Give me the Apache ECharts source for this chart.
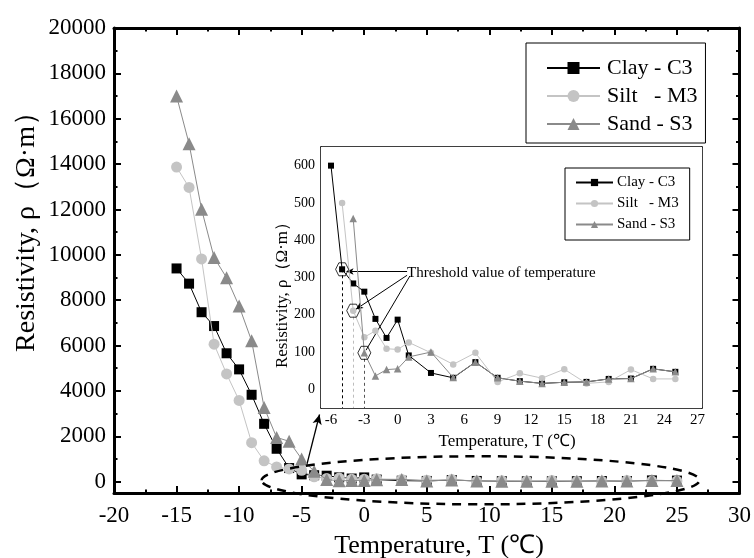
<!DOCTYPE html>
<html>
<head>
<meta charset="utf-8">
<script src="https://cdn.jsdelivr.net/npm/echarts@6/dist/echarts.min.js"></script>
<style>html,body{margin:0;padding:0;background:#fff}#c{width:754px;height:558px}</style>
</head>
<body>
<div id="c"></div>
<script>
// ---------------- data ----------------
const temps = [-15,-14,-13,-12,-11,-10,-9,-8,-7,-6,-5,-4,-3,-2,-1,0,1,3,5,7,9,11,13,15,17,19,21,23,25];
const clay  = [9400,8730,7470,6860,5660,4950,3830,2550,1450,600,322,284,262,189,138,187,91,44,31,73,31,22,16,19,20,28,29,55,47];
const silt  = [13870,12970,9820,6060,4750,3580,1720,920,650,560,500,211,140,157,109,107,126,98,67,98,20,43,30,54,16,20,53,28,28];
const sand  = [17000,14900,12010,9880,8990,7740,6210,3270,1950,1780,1000,458,98,36,53,55,87,100,32,73,31,22,16,19,20,28,29,55,47];
const seriesNames = ['Clay - C3', 'Silt   - M3', 'Sand - S3'];
// inset starts (first temperature shown in the enlarged view)
const insetStart = [-6, -5, -4];
// threshold temperatures
const thresholdTemps = [-5, -4, -3];
// tick labels
const mainYTicks = [0,2000,4000,6000,8000,10000,12000,14000,16000,18000,20000];
const mainYMinor = [1000,3000,5000,7000,9000,11000,13000,15000,17000,19000];
const insetXTicks = [-6,-3,0,3,6,9,12,15,18,21,24,27];
const insetXMinor = [-4.5,-1.5,1.5,4.5,7.5,10.5,13.5,16.5,19.5,22.5,25.5];
const insetYTicks = [0,100,200,300,400,500,600];
const insetYMinor = [50,150,250,350,450,550];
const thresholdLabel = 'Threshold value of temperature';
const labelAnchor = [0.85, 313];

// ---------------- helpers ----------------
const FONT = 'Liberation Serif';
const colors = ['#000000', '#c4c4c4', '#8a8a8a'];
const symbols = ['rect', 'circle', 'triangle'];
const allVals = [clay, silt, sand];
function pairs(vals, start) {
  return temps.map((t, i) => [t, vals[i]]).filter(p => p[0] >= start);
}
function valueAt(vals, t) { return vals[temps.indexOf(t)]; }
const plain = v => String(v);

function axisBase(extra) {
  const base = {
    type: 'value',
    splitLine: {show: false},
    minorSplitLine: {show: false},
    axisLabel: {show: false},
    axisTick: {show: true, inside: true, length: 7, lineStyle: {color: '#000', width: 2}}
  };
  const o = Object.assign(base, extra);
  o.axisLine = Object.assign({show: true, lineStyle: {color: '#000', width: 3}}, extra.axisLine || {}, {onZero: false});
  return o;
}
const thin = {show: true, lineStyle: {color: '#000', width: 1.5}};

const xAxes = [
  // main
  axisBase({gridIndex: 0, position: 'bottom', min: -20, max: 30, interval: 5,
    minorTick: {show: true, splitNumber: 2, length: 3.5, lineStyle: {color: '#000', width: 2}},
    axisLabel: {show: true, formatter: plain, fontFamily: FONT, fontSize: 23, color: '#000', margin: 11}}),
  axisBase({gridIndex: 0, position: 'top', min: -20, max: 30, interval: 5,
    minorTick: {show: true, splitNumber: 2, length: 3.5, lineStyle: {color: '#000', width: 2}}}),
  // inset
  axisBase({gridIndex: 1, position: 'bottom', min: -6.9, max: 27.4, axisLine: thin,
    axisTick: {show: true, inside: true, length: 4, customValues: insetXTicks, lineStyle: {color: '#000', width: 1.2}},
    axisLabel: {show: true, formatter: plain, customValues: insetXTicks, fontFamily: FONT, fontSize: 15, color: '#000', margin: 5}}),
  axisBase({gridIndex: 1, position: 'bottom', min: -6.9, max: 27.4, axisLine: {show: false},
    axisTick: {show: true, inside: true, length: 2.5, customValues: insetXMinor, lineStyle: {color: '#000', width: 1.2}}}),
  axisBase({gridIndex: 1, position: 'top', min: -6.9, max: 27.4, axisLine: thin,
    axisTick: {show: true, inside: true, length: 4, customValues: insetXTicks, lineStyle: {color: '#000', width: 1.2}}}),
  axisBase({gridIndex: 1, position: 'top', min: -6.9, max: 27.4, axisLine: {show: false},
    axisTick: {show: true, inside: true, length: 2.5, customValues: insetXMinor, lineStyle: {color: '#000', width: 1.2}}})
];

const yAxes = [
  // main
  axisBase({gridIndex: 0, position: 'left', min: -500, max: 20000,
    axisTick: {show: true, inside: true, length: 7, customValues: mainYTicks, lineStyle: {color: '#000', width: 2}},
    axisLabel: {show: true, formatter: plain, customValues: mainYTicks, fontFamily: FONT, fontSize: 23, color: '#000', margin: 8}}),
  axisBase({gridIndex: 0, position: 'left', min: -500, max: 20000, axisLine: {show: false},
    axisTick: {show: true, inside: true, length: 3.5, customValues: mainYMinor, lineStyle: {color: '#000', width: 2}}}),
  axisBase({gridIndex: 0, position: 'right', min: -500, max: 20000,
    axisTick: {show: true, inside: true, length: 7, customValues: mainYTicks, lineStyle: {color: '#000', width: 2}}}),
  axisBase({gridIndex: 0, position: 'right', min: -500, max: 20000, axisLine: {show: false},
    axisTick: {show: true, inside: true, length: 3.5, customValues: mainYMinor, lineStyle: {color: '#000', width: 2}}}),
  // inset
  axisBase({gridIndex: 1, position: 'left', min: -50, max: 650, axisLine: thin,
    axisTick: {show: true, inside: true, length: 4, customValues: insetYTicks, lineStyle: {color: '#000', width: 1.2}},
    axisLabel: {show: true, formatter: plain, customValues: insetYTicks, fontFamily: FONT, fontSize: 14, color: '#000', margin: 6}}),
  axisBase({gridIndex: 1, position: 'left', min: -50, max: 650, axisLine: {show: false},
    axisTick: {show: true, inside: true, length: 2.5, customValues: insetYMinor, lineStyle: {color: '#000', width: 1.2}}}),
  axisBase({gridIndex: 1, position: 'right', min: -50, max: 650, axisLine: thin,
    axisTick: {show: true, inside: true, length: 4, customValues: insetYTicks, lineStyle: {color: '#000', width: 1.2}}}),
  axisBase({gridIndex: 1, position: 'right', min: -50, max: 650, axisLine: {show: false},
    axisTick: {show: true, inside: true, length: 2.5, customValues: insetYMinor, lineStyle: {color: '#000', width: 1.2}}})
];

const mainSizes = [10, 11, 13];
const insetSizes = [6, 6.5, 7.5];
const series = [];
// main series
allVals.forEach((vals, k) => {
  series.push({
    type: 'line', name: seriesNames[k], xAxisIndex: 0, yAxisIndex: 0,
    data: pairs(vals, -Infinity), symbol: symbols[k], symbolSize: mainSizes[k],
    itemStyle: {color: colors[k], opacity: 1}, lineStyle: {color: colors[k], width: 1},
    z: 3 + k, animation: false
  });
});
// inset series
allVals.forEach((vals, k) => {
  series.push({
    type: 'line', name: seriesNames[k], xAxisIndex: 2, yAxisIndex: 4,
    data: pairs(vals, insetStart[k]), symbol: symbols[k], symbolSize: insetSizes[k],
    itemStyle: {color: colors[k], opacity: 1}, lineStyle: {color: colors[k], width: 1},
    z: 6 + k, animation: false
  });
});
// arrow from the ellipse to the inset (main coordinates)
series[0].markLine = {
  silent: true, symbol: ['none', 'arrow'], symbolSize: [7, 10], label: {show: false},
  lineStyle: {color: '#000', width: 1.3, type: 'solid'},
  data: [[{coord: [-4.6, 720]}, {coord: [-3.57, 2960]}]]
};
// threshold hexagons + annotation lines
const thresholdPts = thresholdTemps.map((t, k) => [t, valueAt(allVals[k], t)]);
const dashColors = ['#000', '#bdbdbd', '#555'];
series.push({
  type: 'scatter', name: 'threshold', xAxisIndex: 2, yAxisIndex: 4, silent: true,
  data: thresholdPts,
  symbol: 'path://M-1,0 L-0.5,-0.866 L0.5,-0.866 L1,0 L0.5,0.866 L-0.5,0.866 Z',
  symbolSize: 13,
  itemStyle: {color: 'rgba(0,0,0,0)', borderColor: '#000', borderWidth: 1},
  z: 20, animation: false,
  markLine: {
    silent: true, symbol: ['none', 'none'], label: {show: false}, animation: false,
    data: thresholdPts.map((p, k) => [
      {coord: [p[0], p[1]], lineStyle: {color: dashColors[k], type: [3, 3], width: 1}},
      {coord: [p[0], -50]}
    ]).concat([
      [{coord: [labelAnchor[0], labelAnchor[1] + 3], symbol: 'none', lineStyle: {color: '#000', width: 1, type: 'solid'}},
       {coord: [thresholdPts[0][0] + 0.4, labelAnchor[1] + 3], symbol: 'arrow', symbolSize: [5, 7]}],
      [{coord: [labelAnchor[0], labelAnchor[1] - 7], symbol: 'none', lineStyle: {color: '#000', width: 1, type: 'solid'}},
       {coord: [thresholdPts[1][0] + 0.25, thresholdPts[1][1] + 4], symbol: 'arrow', symbolSize: [5, 7]}],
      [{coord: [labelAnchor[0] + 0.25, labelAnchor[1] - 9], symbol: 'none', lineStyle: {color: '#000', width: 1, type: 'solid'}},
       {coord: [thresholdPts[2][0] + 0.15, thresholdPts[2][1] + 7], symbol: 'none'}]
    ])
  }
});

// legend layout (icons and frame by ECharts legend; text drawn in serif on top)
const mainLeg = {left: 526, top: 43, padL: 20, padT: 14, iw: 53, ih: 15, gap: 6, row: 22, size: 22, tx: 8};
const insetLeg = {left: 565, top: 168, padL: 10, padT: 7, iw: 37, ih: 9, gap: 6, row: 15, size: 15, tx: 5};
function legendOpt(L, z) {
  return {
    data: seriesNames, orient: 'vertical', left: L.left, top: L.top,
    itemWidth: L.iw, itemHeight: L.ih, itemGap: L.gap,
    padding: [L.padT, 10, 8, L.padL],
    borderColor: '#000', borderWidth: 1, backgroundColor: '#fff',
    textStyle: {fontFamily: FONT, fontSize: L.size, color: 'rgba(0,0,0,0)', lineHeight: L.row},
    selectedMode: false, z: z
  };
}
function legendTexts(L, z) {
  return seriesNames.map((n, i) => ({
    type: 'text', z: z, x: L.left + L.padL + L.iw + L.tx, y: L.top + L.padT + L.row / 2 + i * (L.row + L.gap),
    style: {text: n, fontFamily: FONT, fontSize: L.size, fill: '#000', align: 'left', verticalAlign: 'middle'}
  }));
}

const chart = echarts.init(document.getElementById('c'), null, {renderer: 'canvas'});
chart.setOption({
  animation: false,
  backgroundColor: '#fff',
  textStyle: {fontFamily: FONT},
  grid: [
    {left: 114, top: 28, width: 627, height: 465, containLabel: false},
    {left: 321, top: 147, width: 381, height: 261, containLabel: false, show: true, backgroundColor: '#fff', borderWidth: 0, z: 4}
  ],
  xAxis: xAxes,
  yAxis: yAxes,
  legend: [legendOpt(mainLeg, 8), legendOpt(insetLeg, 10)],
  series: series
});

// axis titles, annotation text, ellipse
const lp = chart.convertToPixel({xAxisIndex: 2, yAxisIndex: 4}, labelAnchor);
const ec = chart.convertToPixel({xAxisIndex: 0, yAxisIndex: 0}, [9.3, 60]);
const ee = chart.convertToPixel({xAxisIndex: 0, yAxisIndex: 0}, [9.3 + 17.5, 60 + 1060]);
chart.setOption({
  graphic: [
    {type: 'text', x: 439, y: 546, style: {text: 'Temperature, T (℃)', fontFamily: FONT, fontSize: 26, fill: '#000', align: 'center', verticalAlign: 'middle'}},
    {type: 'text', x: 27, y: 225, rotation: Math.PI / 2, style: {text: 'Resistivity, ρ（Ω·m）', fontFamily: FONT, fontSize: 28, fill: '#000', align: 'center', verticalAlign: 'middle'}},
    {type: 'text', x: 507, y: 442, z: 50, style: {text: 'Temperature, T (℃)', fontFamily: FONT, fontSize: 17, fill: '#000', align: 'center', verticalAlign: 'middle'}},
    {type: 'text', x: 283, y: 291, rotation: Math.PI / 2, z: 50, style: {text: 'Resistivity, ρ（Ω·m）', fontFamily: FONT, fontSize: 17, fill: '#000', align: 'center', verticalAlign: 'middle'}},
    {type: 'text', x: lp[0], y: lp[1], z: 50, style: {text: thresholdLabel, fontFamily: FONT, fontSize: 15, fill: '#000', align: 'left', verticalAlign: 'middle'}},
    {type: 'ellipse', z: 40, silent: true, shape: {cx: ec[0], cy: ec[1], rx: ee[0] - ec[0], ry: ec[1] - ee[1]},
     style: {fill: null, stroke: '#000', lineWidth: 2.5, lineDash: [9, 7]}}
  ].concat(legendTexts(mainLeg, 60), legendTexts(insetLeg, 60))
});
</script>
</body>
</html>
